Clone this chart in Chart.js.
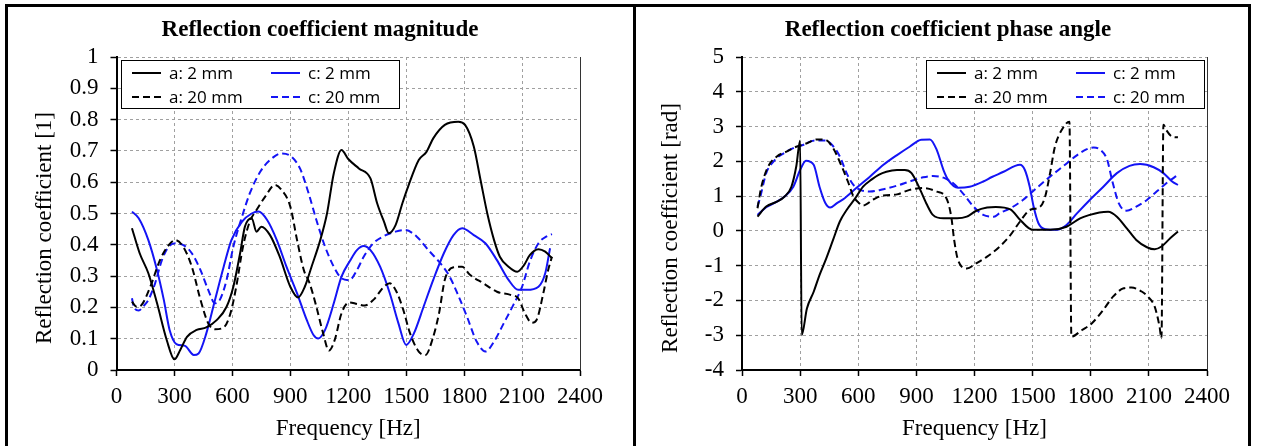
<!DOCTYPE html>
<html>
<head>
<meta charset="utf-8">
<script src="https://cdn.jsdelivr.net/npm/chart.js@4.4.0/dist/chart.umd.min.js"></script>
<style>
body { margin: 0; background: #fff; width: 1261px; height: 446px; overflow: hidden; position: relative; }
.panel { position: absolute; border: 3px solid #000; box-sizing: border-box; }
canvas { position: absolute; }
</style>
</head>
<body>
<div class="panel" style="left:5px;top:4px;width:631px;height:470px"></div>
<div class="panel" style="left:633px;top:4px;width:618px;height:470px"></div>
<canvas id="mag" width="624" height="439" style="left:8px;top:7px"></canvas>
<canvas id="phase" width="609" height="439" style="left:637px;top:7px"></canvas>
<script>
var freqTicks = [0, 300, 600, 900, 1200, 1500, 1800, 2100, 2400];
var seriesLabels = ["a: 2 mm", "a: 20 mm", "c: 2 mm", "c: 20 mm"];

// magnitude [1]
var magA2Hz = [80, 120, 165, 210, 260, 300, 330, 365, 415, 465, 520, 570, 605, 640, 665, 700, 725, 750, 795, 845, 900, 940, 975, 1010, 1055, 1090, 1125, 1165, 1200, 1255, 1315, 1350, 1385, 1410, 1445, 1480, 1510, 1565, 1605, 1640, 1700, 1770, 1805, 1850, 1885, 1920, 1955, 1985, 2030, 2075, 2110, 2140, 2185, 2220, 2255];
var magA2 = [0.453, 0.373, 0.309, 0.213, 0.096, 0.034, 0.064, 0.106, 0.128, 0.136, 0.160, 0.202, 0.266, 0.373, 0.458, 0.485, 0.442, 0.458, 0.431, 0.362, 0.266, 0.232, 0.266, 0.330, 0.415, 0.500, 0.628, 0.703, 0.674, 0.644, 0.612, 0.532, 0.474, 0.437, 0.463, 0.532, 0.586, 0.671, 0.697, 0.740, 0.783, 0.793, 0.783, 0.714, 0.607, 0.500, 0.415, 0.362, 0.330, 0.314, 0.335, 0.367, 0.386, 0.378, 0.357];

var magA20Hz = [80, 105, 130, 175, 225, 270, 305, 345, 390, 435, 475, 510, 555, 590, 620, 655, 690, 725, 770, 820, 855, 900, 935, 970, 1000, 1035, 1070, 1100, 1130, 1165, 1205, 1245, 1285, 1330, 1385, 1415, 1450, 1485, 1520, 1565, 1600, 1635, 1670, 1700, 1745, 1790, 1830, 1900, 1970, 2040, 2080, 2115, 2150, 2175, 2210, 2235, 2255];
var magA20 = [0.218, 0.202, 0.208, 0.266, 0.351, 0.399, 0.415, 0.394, 0.330, 0.224, 0.149, 0.130, 0.136, 0.181, 0.266, 0.394, 0.474, 0.511, 0.554, 0.591, 0.575, 0.522, 0.415, 0.319, 0.277, 0.202, 0.117, 0.062, 0.096, 0.181, 0.216, 0.211, 0.206, 0.224, 0.266, 0.277, 0.250, 0.192, 0.117, 0.059, 0.048, 0.096, 0.181, 0.288, 0.328, 0.330, 0.304, 0.277, 0.250, 0.240, 0.229, 0.181, 0.151, 0.160, 0.245, 0.319, 0.362];

var magC2Hz = [80, 115, 165, 210, 245, 275, 310, 355, 400, 425, 465, 510, 555, 595, 650, 700, 735, 780, 830, 880, 935, 985, 1020, 1045, 1080, 1125, 1165, 1210, 1245, 1280, 1315, 1365, 1415, 1460, 1500, 1540, 1590, 1640, 1695, 1745, 1790, 1850, 1910, 1970, 2030, 2080, 2125, 2185, 2220, 2245];
var magC2 = [0.506, 0.485, 0.415, 0.319, 0.224, 0.128, 0.083, 0.077, 0.048, 0.053, 0.117, 0.224, 0.330, 0.415, 0.474, 0.500, 0.506, 0.479, 0.415, 0.330, 0.245, 0.160, 0.112, 0.101, 0.128, 0.213, 0.298, 0.350, 0.383, 0.396, 0.383, 0.330, 0.245, 0.149, 0.080, 0.117, 0.202, 0.288, 0.373, 0.431, 0.453, 0.431, 0.405, 0.351, 0.288, 0.256, 0.256, 0.266, 0.309, 0.389];

var magC20Hz = [80, 90, 115, 140, 165, 200, 235, 270, 305, 355, 390, 435, 475, 510, 535, 570, 605, 650, 690, 745, 795, 855, 905, 950, 995, 1035, 1080, 1125, 1165, 1205, 1245, 1280, 1330, 1385, 1445, 1495, 1555, 1615, 1670, 1720, 1765, 1815, 1865, 1910, 1955, 2005, 2055, 2100, 2140, 2185, 2230, 2255];
var magC20 = [0.229, 0.202, 0.190, 0.204, 0.224, 0.277, 0.351, 0.394, 0.405, 0.396, 0.373, 0.319, 0.256, 0.213, 0.224, 0.288, 0.394, 0.490, 0.564, 0.634, 0.671, 0.692, 0.682, 0.644, 0.564, 0.479, 0.394, 0.330, 0.293, 0.287, 0.319, 0.362, 0.405, 0.428, 0.442, 0.447, 0.426, 0.383, 0.346, 0.304, 0.245, 0.170, 0.091, 0.059, 0.091, 0.149, 0.208, 0.266, 0.346, 0.405, 0.428, 0.434];

// phase angle [rad]
var phA2Hz = [80, 125, 180, 220, 255, 280, 300, 308, 335, 370, 400, 435, 470, 505, 540, 585, 625, 670, 705, 745, 800, 840, 875, 920, 955, 985, 1040, 1110, 1160, 1210, 1265, 1310, 1385, 1435, 1480, 1505, 1590, 1675, 1745, 1795, 1845, 1890, 1935, 1985, 2035, 2090, 2130, 2165, 2210, 2250];
var phA2 = [0.41, 0.70, 0.84, 0.99, 1.27, 1.85, 2.60, -3.00, -2.23, -1.75, -1.27, -0.79, -0.26, 0.27, 0.60, 0.94, 1.27, 1.48, 1.61, 1.70, 1.75, 1.75, 1.66, 1.18, 0.75, 0.46, 0.36, 0.36, 0.41, 0.58, 0.67, 0.69, 0.62, 0.32, 0.08, 0.03, 0.03, 0.12, 0.36, 0.46, 0.53, 0.55, 0.41, 0.08, -0.26, -0.47, -0.53, -0.45, -0.21, -0.02];

var phA20Hz = [80, 100, 135, 180, 230, 280, 335, 385, 430, 470, 515, 550, 575, 600, 625, 680, 730, 800, 865, 935, 1005, 1055, 1080, 1095, 1115, 1160, 1210, 1265, 1330, 1385, 1435, 1485, 1540, 1565, 1590, 1615, 1650, 1690, 1700, 1755, 1805, 1865, 1915, 1970, 2010, 2065, 2095, 2130, 2155, 2165, 2175, 2190, 2220, 2250];
var phA20 = [0.65, 1.27, 1.85, 2.14, 2.28, 2.42, 2.52, 2.63, 2.62, 2.38, 1.85, 1.37, 0.99, 0.82, 0.73, 0.91, 1.02, 1.05, 1.18, 1.23, 1.13, 0.94, 0.41, -0.26, -0.84, -1.08, -0.93, -0.74, -0.45, -0.12, 0.27, 0.60, 0.70, 0.99, 1.66, 2.42, 2.90, 3.14, -3.04, -2.85, -2.66, -2.27, -1.89, -1.65, -1.63, -1.75, -1.89, -2.18, -2.75, -3.09, 3.05, 2.90, 2.71, 2.69];

var phC2Hz = [80, 125, 180, 220, 265, 300, 330, 370, 400, 430, 455, 490, 530, 590, 660, 730, 800, 865, 925, 970, 1005, 1040, 1065, 1115, 1175, 1245, 1290, 1350, 1410, 1435, 1460, 1485, 1505, 1530, 1565, 1625, 1675, 1730, 1795, 1865, 1935, 2000, 2055, 2125, 2175, 2220, 2250];
var phC2 = [0.46, 0.68, 0.84, 0.99, 1.27, 1.75, 2.02, 1.90, 1.27, 0.80, 0.67, 0.80, 0.94, 1.23, 1.56, 1.90, 2.18, 2.42, 2.62, 2.63, 2.33, 1.75, 1.46, 1.24, 1.27, 1.42, 1.55, 1.70, 1.87, 1.90, 1.75, 1.27, 0.70, 0.22, 0.05, 0.03, 0.17, 0.51, 0.89, 1.27, 1.66, 1.87, 1.92, 1.83, 1.66, 1.42, 1.32];

var phC20Hz = [80, 95, 125, 170, 215, 265, 315, 375, 430, 465, 505, 540, 575, 610, 660, 730, 800, 865, 935, 985, 1040, 1090, 1140, 1195, 1245, 1300, 1330, 1385, 1450, 1520, 1590, 1660, 1730, 1780, 1815, 1850, 1885, 1910, 1945, 1985, 2035, 2090, 2140, 2190, 2250];
var phC20 = [0.70, 0.99, 1.66, 2.04, 2.23, 2.38, 2.47, 2.60, 2.60, 2.47, 2.14, 1.66, 1.32, 1.18, 1.13, 1.20, 1.30, 1.42, 1.54, 1.58, 1.53, 1.37, 1.08, 0.70, 0.46, 0.41, 0.51, 0.65, 0.89, 1.23, 1.56, 1.87, 2.18, 2.35, 2.40, 2.33, 2.04, 1.46, 0.79, 0.58, 0.70, 0.89, 1.13, 1.37, 1.61];

var lineColors = ["#000000", "#000000", "#1414F5", "#1414F5"];
var lineDashes = [[], [7, 4], [], [7, 4]];

Chart.defaults.font.family = "'Liberation Serif', serif";
Chart.defaults.color = "#000";

function toPoints(hz, vals) {
    return hz.map(function (f, i) { return { x: f, y: vals[i] }; });
}

function makeDatasets(pairs) {
    return pairs.map(function (p, i) {
        return {
            label: seriesLabels[i],
            data: toPoints(p[0], p[1]),
            borderColor: lineColors[i],
            borderDash: lineDashes[i],
            borderWidth: 2,
            pointRadius: 0,
            fill: false,
            cubicInterpolationMode: 'monotone'
        };
    });
}

// right frame line, boxed legend inside the plot, and the y title
var panelDecor = {
    id: 'panelDecor',
    afterDatasetsDraw: function (chart, args, opts) {
        var ctx = chart.ctx, a = chart.chartArea;
        ctx.save();
        ctx.strokeStyle = '#333';
        ctx.lineWidth = 1;
        ctx.beginPath();
        ctx.moveTo(a.right + 0.5, a.top);
        ctx.lineTo(a.right + 0.5, a.bottom);
        ctx.stroke();

        var w = 278, h = 48;
        var x = opts.side === 'right' ? a.right - 3 - w : a.left + 4.5;
        var y = a.top + 3;
        ctx.fillStyle = '#fff';
        ctx.fillRect(x, y, w, h);
        ctx.strokeStyle = '#000';
        ctx.strokeRect(Math.round(x) + 0.5, Math.round(y) + 0.5, w, h);
        ctx.font = "17px 'Open Sans'";
        ctx.textBaseline = 'middle';
        chart.data.datasets.forEach(function (ds, i) {
            var col = Math.floor(i / 2), row = i % 2;
            var lx = x + (col ? 150 : 11);
            var ly = y + (row ? 37 : 13);
            ctx.strokeStyle = ds.borderColor;
            ctx.lineWidth = 2;
            ctx.setLineDash(ds.borderDash);
            ctx.beginPath();
            ctx.moveTo(lx, ly);
            ctx.lineTo(lx + 29, ly);
            ctx.stroke();
            ctx.setLineDash([]);
            ctx.fillStyle = '#000';
            ctx.fillText(ds.label, lx + 37, ly + 1);
        });
        ctx.restore();
    },
    afterDraw: function (chart, args, opts) {
        var ctx = chart.ctx;
        ctx.save();
        ctx.translate(opts.titleX, opts.titleY);
        ctx.rotate(-Math.PI / 2);
        ctx.font = "23px 'Liberation Serif'";
        ctx.fillStyle = '#000';
        ctx.textAlign = 'center';
        ctx.textBaseline = 'middle';
        ctx.fillText(opts.yTitle, 0, 0);
        ctx.restore();
    }
};

function makeOptions(cfg) {
    return {
        responsive: false,
        animation: false,
        layout: { padding: { left: cfg.leftPad, right: cfg.rightPad, top: 0, bottom: 0 } },
        plugins: {
            legend: { display: false },
            tooltip: { enabled: false },
            title: {
                display: true,
                text: cfg.title,
                color: '#000',
                font: { size: 23, weight: 'bold' },
                padding: { top: 9, bottom: 13.4 }
            },
            panelDecor: { side: cfg.legendSide, yTitle: cfg.yTitle, titleX: cfg.titleX, titleY: 221 }
        },
        scales: {
            x: {
                type: 'linear',
                min: 0,
                max: 2400,
                afterBuildTicks: function (s) { s.ticks = freqTicks.map(function (v) { return { value: v }; }); },
                afterFit: function (s) { s.height = 76; },
                ticks: { font: { size: 23 }, padding: 7, maxRotation: 0, callback: function (v) { return String(v); } },
                grid: { color: '#a0a0a0', tickColor: '#000', tickLength: 6, tickWidth: 1.5 },
                border: { color: '#000', width: 2, dash: [3, 3] },
                title: { display: true, text: 'Frequency [Hz]', font: { size: 23 }, padding: { top: 0, bottom: 3 } }
            },
            y: {
                min: cfg.yMin,
                max: cfg.yMax,
                afterFit: function (s) { s.width = cfg.yWidth; },
                ticks: {
                    stepSize: cfg.yStep,
                    font: { size: 23 },
                    padding: 12,
                    callback: function (v) { return String(Math.round(v * 10) / 10); }
                },
                grid: { color: '#a0a0a0', tickColor: '#000', tickLength: 6, tickWidth: 1.5 },
                border: { color: '#000', width: 2, dash: [3, 3] }
            }
        }
    };
}

var magChart = new Chart(document.getElementById('mag'), {
    type: 'line',
    data: { datasets: makeDatasets([[magA2Hz, magA2], [magA20Hz, magA20], [magC2Hz, magC2], [magC20Hz, magC20]]) },
    options: makeOptions({
        title: 'Reflection coefficient magnitude',
        yTitle: 'Reflection coefficient [1]',
        yMin: 0, yMax: 1, yStep: 0.1,
        leftPad: 52, yWidth: 56.5, rightPad: 52,
        legendSide: 'left', titleX: 37
    }),
    plugins: [panelDecor]
});

var phaseChart = new Chart(document.getElementById('phase'), {
    type: 'line',
    data: { datasets: makeDatasets([[phA2Hz, phA2], [phA20Hz, phA20], [phC2Hz, phC2], [phC20Hz, phC20]]) },
    options: makeOptions({
        title: 'Reflection coefficient phase angle',
        yTitle: 'Reflection coefficient [rad]',
        yMin: -4, yMax: 5, yStep: 1,
        leftPad: 52, yWidth: 53, rightPad: 39,
        legendSide: 'right', titleX: 34
    }),
    plugins: [panelDecor]
});
</script>
</body>
</html>
